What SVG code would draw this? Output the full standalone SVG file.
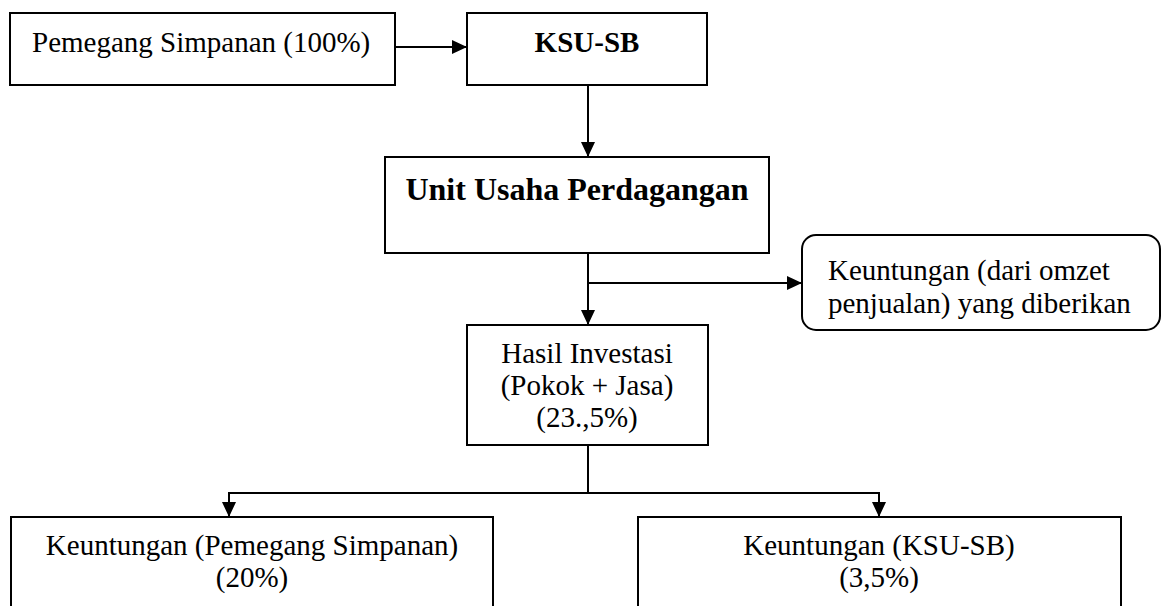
<svg xmlns="http://www.w3.org/2000/svg" width="1162" height="606" viewBox="0 0 1162 606">
<style>
.box{fill:#fff;stroke:#000;stroke-width:2}
.t{font-family:"Liberation Serif","Times New Roman",serif;font-size:29px;fill:#000}
.b{font-weight:bold}
.c{text-anchor:middle}
.ln{fill:none;stroke:#000;stroke-width:2}
</style>
<defs>
<marker id="ah" markerWidth="15" markerHeight="14" refX="15" refY="7" orient="auto" markerUnits="userSpaceOnUse">
<path d="M0,0 L15,7 L0,14 Z" fill="#000"/>
</marker>
</defs>
<rect x="0" y="0" width="1162" height="606" fill="#fff"/>
<g id="connectors">
<line class="ln" x1="395" y1="47" x2="467" y2="47" marker-end="url(#ah)"/>
<line class="ln" x1="588" y1="85" x2="588" y2="157" marker-end="url(#ah)"/>
<line class="ln" x1="588" y1="253" x2="588" y2="325" marker-end="url(#ah)"/>
<line class="ln" x1="588" y1="283" x2="802" y2="283" marker-end="url(#ah)"/>
<polyline class="ln" points="588,445 588,493"/>
<polyline class="ln" points="588,493 229,493 229,517" marker-end="url(#ah)"/>
<polyline class="ln" points="588,493 879,493 879,517" marker-end="url(#ah)"/>
</g>
<g id="pemegang">
<rect class="box" x="10" y="13" width="385" height="72"/>
<text class="t" x="32" y="52">Pemegang Simpanan (100%)</text>
</g>
<g id="ksusb">
<rect class="box" x="467" y="13" width="240" height="72"/>
<text class="t b c" x="587" y="52">KSU-SB</text>
</g>
<g id="unit">
<rect class="box" x="385" y="157" width="384" height="96"/>
<text class="t b c" x="577" y="200" style="font-size:32px">Unit Usaha Perdagangan</text>
</g>
<g id="omzet">
<rect class="box" x="802" y="235" width="358" height="95" rx="14" ry="14"/>
<text class="t" x="828" y="280">Keuntungan (dari omzet</text>
<text class="t" x="828" y="313">penjualan) yang diberikan</text>
</g>
<g id="hasil">
<rect class="box" x="467" y="325" width="241" height="120"/>
<text class="t c" x="587" y="363">Hasil Investasi</text>
<text class="t c" x="587" y="395">(Pokok + Jasa)</text>
<text class="t c" x="587" y="427">(23.,5%)</text>
</g>
<g id="keuntungan-pemegang">
<rect class="box" x="11" y="517" width="482" height="110"/>
<text class="t c" x="252" y="555">Keuntungan (Pemegang Simpanan)</text>
<text class="t c" x="252" y="587">(20%)</text>
</g>
<g id="keuntungan-ksusb">
<rect class="box" x="638" y="517" width="483" height="110"/>
<text class="t c" x="879" y="555">Keuntungan (KSU-SB)</text>
<text class="t c" x="879" y="587">(3,5%)</text>
</g>
</svg>
